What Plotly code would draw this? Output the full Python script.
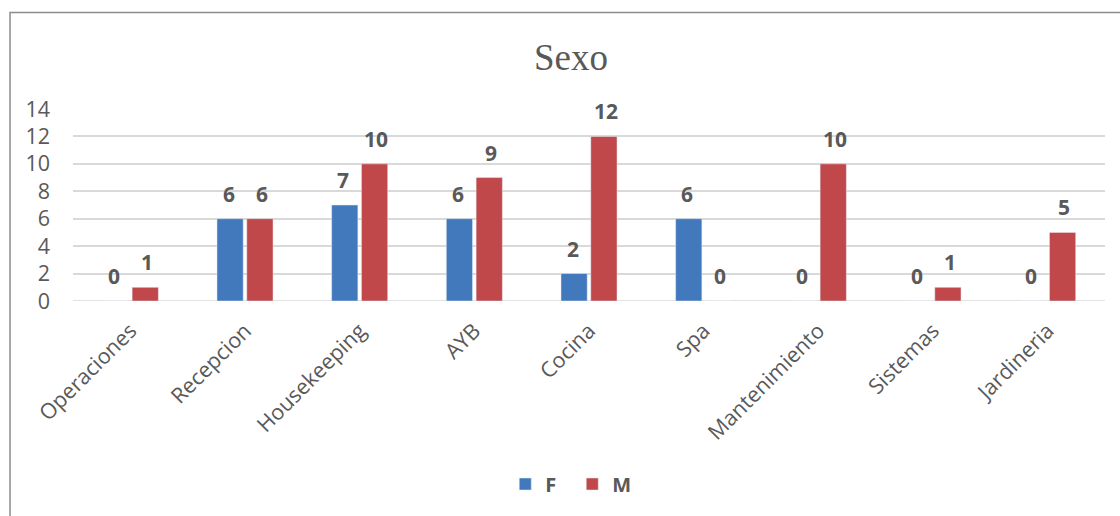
import plotly.graph_objects as go

categories = ["Operaciones", "Recepcion", "Housekeeping", "AYB", "Cocina", "Spa",
              "Mantenimiento", "Sistemas", "Jardineria"]
f_values = [0, 6, 7, 6, 2, 6, 0, 0, 0]
m_values = [1, 6, 10, 9, 12, 0, 10, 1, 5]
y_ticks = [0, 2, 4, 6, 8, 10, 12, 14]

W, H = 1120, 516
ML, MR, MT, MB = 72.5, 15, 109, 215
pw, ph = W - ML - MR, H - MT - MB

def px_to_paper_x(px):
    return (px - ML) / pw

def px_to_paper_y(py):
    return (H - MB - py) / ph

gray = "#595959"
label_font = dict(family="Open Sans", size=21.5, color=gray)
blue, red = "#4279BD", "#C0474A"

fig = go.Figure()
fig.add_trace(go.Bar(name="F", x=categories, y=f_values, marker_color=blue,
                     cliponaxis=False))
fig.add_trace(go.Bar(name="M", x=categories, y=m_values, marker_color=red,
                     cliponaxis=False))

# data labels
for series, offset in ((f_values, -16.5), (m_values, 16.5)):
    for cat, v in zip(categories, series):
        fig.add_annotation(x=cat, y=v, xref="x", yref="y", text=f"<b>{v}</b>",
                           showarrow=False, xshift=offset, yshift=25,
                           yanchor="middle", xanchor="center",
                           font=dict(family="Open Sans", size=21, color=gray))

fig.update_layout(
    width=W, height=H,
    margin=dict(l=ML, r=MR, t=MT, b=MB, autoexpand=False),
    paper_bgcolor="white", plot_bgcolor="white",
    barmode="group", bargap=0.48, bargroupgap=0.12,
    title=dict(text="Sexo", x=571 / W, xanchor="center",
               y=1 - 57 / H, yanchor="middle",
               font=dict(family="Liberation Serif", size=37, color=gray)),
    showlegend=True,
    legend=dict(orientation="h", x=px_to_paper_x(572), xanchor="center",
                y=px_to_paper_y(484), yanchor="middle",
                font=dict(family="Open Sans", size=20, color=gray, weight="bold"),
                itemwidth=30, entrywidth=22, entrywidthmode="pixels",
                traceorder="normal"),
    xaxis=dict(tickangle=-45, tickfont=label_font, showgrid=False, showline=False,
               ticks="", type="category", ticklabelstandoff=12),
    yaxis=dict(range=[0, 14], tickvals=y_ticks, tickfont=label_font,
               showgrid=True, gridcolor="#D9D9D9", gridwidth=1.5, zeroline=False,
               showline=False, ticks="", ticklabelstandoff=22),
)

fig.add_shape(type="line", xref="paper", yref="y", x0=0, x1=1, y0=0, y1=0,
              line=dict(color="#D9D9D9", width=1.5), layer="below")

fig.add_shape(type="rect", xref="paper", yref="paper",
              x0=px_to_paper_x(9.5), x1=px_to_paper_x(1130),
              y0=px_to_paper_y(530), y1=px_to_paper_y(12.5),
              line=dict(color="#8C8C8C", width=1.5), fillcolor="rgba(0,0,0,0)")

fig.write_html("out.html")
